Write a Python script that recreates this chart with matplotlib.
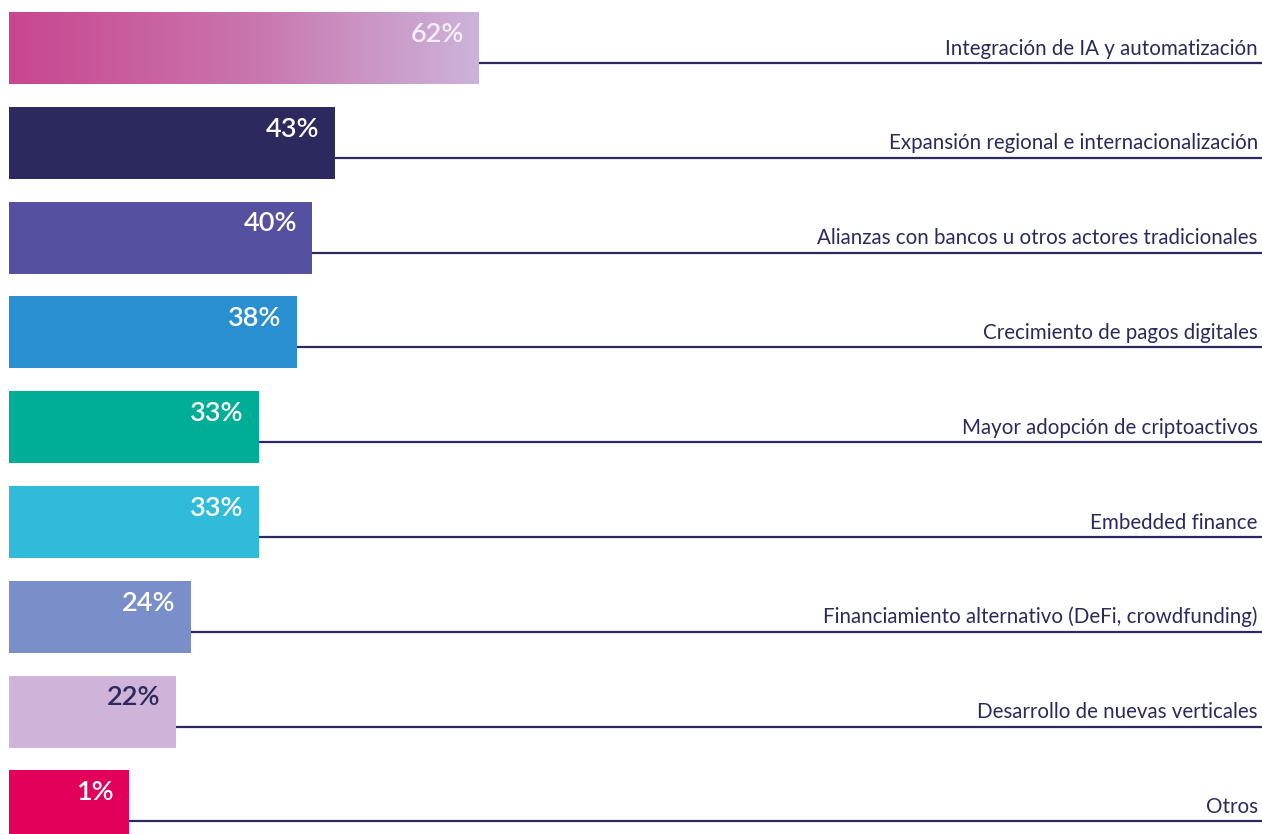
import matplotlib
matplotlib.use("Agg")
import matplotlib.pyplot as plt
import numpy as np
from matplotlib.colors import LinearSegmentedColormap

categories = [
    "Integración de IA y automatización",
    "Expansión regional e internacionalización",
    "Alianzas con bancos u otros actores tradicionales",
    "Crecimiento de pagos digitales",
    "Mayor adopción de criptoactivos",
    "Embedded finance",
    "Financiamiento alternativo (DeFi, crowdfunding)",
    "Desarrollo de nuevas verticales",
    "Otros",
]
values = [62, 43, 40, 38, 33, 33, 24, 22, 1]
value_labels = ["62%", "43%", "40%", "38%", "33%", "33%", "24%", "22%", "1%"]
bar_colors = ["gradient", "#2b295e", "#5650a0", "#2a8fd0", "#00ae98",
              "#30bcd8", "#7a8fca", "#cfb3d8", "#e3005a"]
label_colors = ["#f4eef6", "white", "white", "white", "white",
                "white", "white", "#2b295e", "white"]
MIN_VISIBLE = 15.8  # smallest bar drawn wide enough to hold its label

W, H = 1262, 834
fig = plt.figure(figsize=(W / 100, H / 100), dpi=100)
ax = fig.add_axes([0, 0, 1, 1])
px_per_unit = 7.58
x0 = 9
pitch = 94.8
c0 = 48
ax.set_xlim(-x0 / px_per_unit, (W - x0) / px_per_unit)
ax.set_ylim((H - c0) / pitch, -c0 / pitch)
ax.axis("off")

bar_h = 72 / pitch
line_off = 15 / pitch
navy = "#2b295e"
grad = LinearSegmentedColormap.from_list("g", ["#c9468f", "#c874ac", "#cdb3d9"])

y = np.arange(len(categories))
xmax = ax.get_xlim()[1]
for i, (cat, v, lab, col, lc) in enumerate(zip(categories, values, value_labels,
                                              bar_colors, label_colors)):
    w = max(v, MIN_VISIBLE)
    if col == "gradient":
        bars = ax.barh(y[i], w, height=bar_h, color="none", edgecolor="none")
        patch = bars[0]
        g = np.linspace(0, 1, 256).reshape(1, -1)
        im = ax.imshow(g, cmap=grad, aspect="auto",
                       extent=[0, w, y[i] + bar_h / 2, y[i] - bar_h / 2],
                       zorder=2)
        im.set_clip_path(patch)
    else:
        ax.barh(y[i], w, height=bar_h, color=col, edgecolor="none", zorder=2)
    ax.plot([w, xmax], [y[i] + line_off, y[i] + line_off], color=navy,
            lw=1.6, solid_capstyle="butt", zorder=1)
    ax.annotate(lab, xy=(w, y[i] - bar_h / 2), xytext=(-11, -16),
                textcoords="offset points", ha="right", va="center",
                fontsize=19.5, fontweight="semibold", color=lc,
                family=["Lato", "DejaVu Sans"], zorder=3)
    ax.annotate(cat, xy=(xmax, y[i] + line_off), xytext=(-3, 6),
                textcoords="offset points", ha="right", va="baseline",
                fontsize=14.8, color=navy, family=["Lato", "DejaVu Sans"],
                zorder=3)

ax.set_ylim((H - c0) / pitch, -c0 / pitch)
ax.set_xlim(-x0 / px_per_unit, (W - x0) / px_per_unit)
fig.savefig("out.png", dpi=100)
